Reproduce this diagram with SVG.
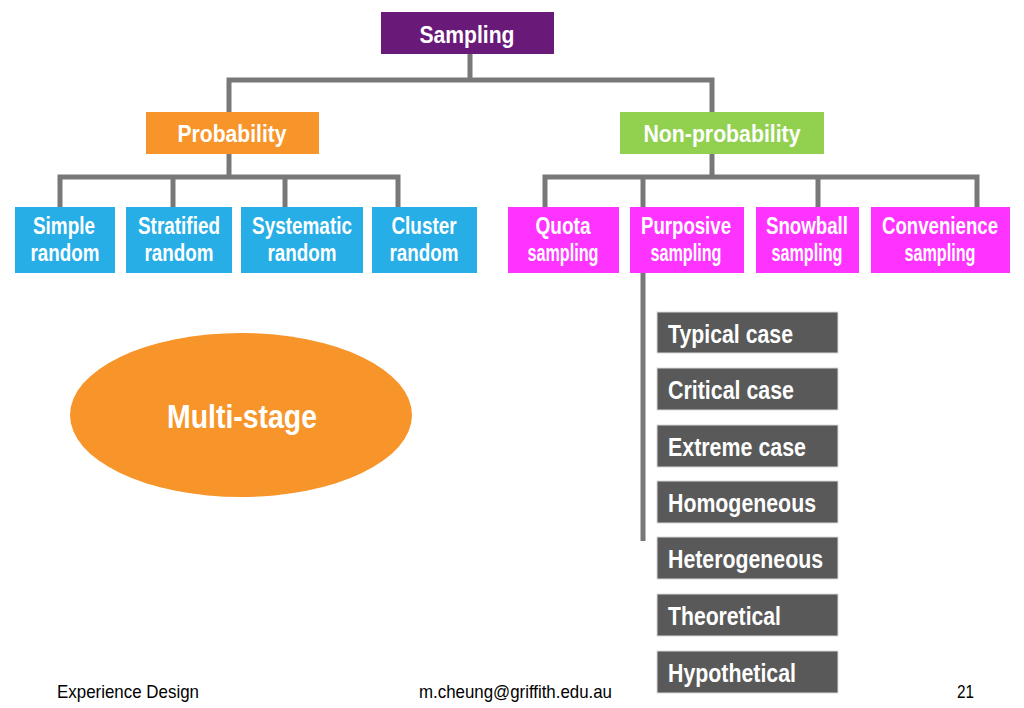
<svg xmlns="http://www.w3.org/2000/svg" width="1024" height="708" viewBox="0 0 1024 708">
<style>
.lbl{font-family:"Liberation Sans",Arial,sans-serif;font-weight:bold;fill:#fff;font-size:23px;text-anchor:middle}
.big{font-size:24px}
.glbl{font-family:"Liberation Sans",Arial,sans-serif;font-weight:bold;fill:#fff;font-size:25px}
.foot{font-family:"Liberation Sans",Arial,sans-serif;fill:#000;font-size:19px}
.con{stroke:#787878;stroke-width:5;fill:none}
.blue{fill:#27aee6}
.mag{fill:#ff33ff}
.gray{fill:#595959;stroke:#d9d9d9;stroke-width:1}
</style>
<rect width="1024" height="708" fill="#fff"/>
<g id="connectors">
<polyline class="con" points="470,54 470,80"/>
<polyline class="con" points="229,112 229,80 712,80 712,112"/>
<polyline class="con" points="229,154 229,177"/>
<polyline class="con" points="60,207 60,177 398,177 398,207"/>
<line class="con" x1="173" y1="177" x2="173" y2="207"/>
<line class="con" x1="285" y1="177" x2="285" y2="207"/>
<polyline class="con" points="712,154 712,177"/>
<polyline class="con" points="545,207 545,177 977,177 977,207"/>
<line class="con" x1="643" y1="177" x2="643" y2="207"/>
<line class="con" x1="818" y1="177" x2="818" y2="207"/>
<line class="con" x1="643" y1="273" x2="643" y2="541"/>
</g>
<g id="sampling"><rect x="381" y="12" width="173" height="42" fill="#691a78"/><text class="lbl big" x="467" y="43" textLength="95" lengthAdjust="spacingAndGlyphs">Sampling</text></g>
<g id="probability"><rect x="146" y="112" width="173" height="42" fill="#f7952a"/><text class="lbl big" x="232" y="142" textLength="109" lengthAdjust="spacingAndGlyphs">Probability</text></g>
<g id="nonprobability"><rect x="620" y="112" width="204" height="42" fill="#92d050"/><text class="lbl big" x="722" y="142" textLength="157" lengthAdjust="spacingAndGlyphs">Non-probability</text></g>
<g id="simple"><rect class="blue" x="15" y="207" width="100" height="66"/><text class="lbl" x="64" y="234" textLength="62" lengthAdjust="spacingAndGlyphs">Simple</text><text class="lbl" x="65" y="261" textLength="69" lengthAdjust="spacingAndGlyphs">random</text></g>
<g id="stratified"><rect class="blue" x="126" y="207" width="106" height="66"/><text class="lbl" x="179" y="234" textLength="82" lengthAdjust="spacingAndGlyphs">Stratified</text><text class="lbl" x="179" y="261" textLength="69" lengthAdjust="spacingAndGlyphs">random</text></g>
<g id="systematic"><rect class="blue" x="241" y="207" width="122" height="66"/><text class="lbl" x="302" y="234" textLength="100" lengthAdjust="spacingAndGlyphs">Systematic</text><text class="lbl" x="302" y="261" textLength="69" lengthAdjust="spacingAndGlyphs">random</text></g>
<g id="cluster"><rect class="blue" x="372" y="207" width="105" height="66"/><text class="lbl" x="424" y="234" textLength="65" lengthAdjust="spacingAndGlyphs">Cluster</text><text class="lbl" x="424" y="261" textLength="69" lengthAdjust="spacingAndGlyphs">random</text></g>
<g id="quota"><rect class="mag" x="508" y="207" width="111" height="66"/><text class="lbl" x="563" y="234" textLength="55" lengthAdjust="spacingAndGlyphs">Quota</text><text class="lbl" x="563" y="261" textLength="71" lengthAdjust="spacingAndGlyphs">sampling</text></g>
<g id="purposive"><rect class="mag" x="630" y="207" width="114" height="66"/><text class="lbl" x="686" y="234" textLength="90" lengthAdjust="spacingAndGlyphs">Purposive</text><text class="lbl" x="686" y="261" textLength="71" lengthAdjust="spacingAndGlyphs">sampling</text></g>
<g id="snowball"><rect class="mag" x="756" y="207" width="103" height="66"/><text class="lbl" x="807" y="234" textLength="82" lengthAdjust="spacingAndGlyphs">Snowball</text><text class="lbl" x="807" y="261" textLength="71" lengthAdjust="spacingAndGlyphs">sampling</text></g>
<g id="convenience"><rect class="mag" x="871" y="207" width="139" height="66"/><text class="lbl" x="940" y="234" textLength="116" lengthAdjust="spacingAndGlyphs">Convenience</text><text class="lbl" x="940" y="261" textLength="71" lengthAdjust="spacingAndGlyphs">sampling</text></g>
<g id="typical"><rect class="gray" x="657" y="312" width="181" height="41"/><text class="glbl" x="668" y="343" textLength="125" lengthAdjust="spacingAndGlyphs">Typical case</text></g>
<g id="critical"><rect class="gray" x="657" y="368" width="181" height="42"/><text class="glbl" x="668" y="399" textLength="126" lengthAdjust="spacingAndGlyphs">Critical case</text></g>
<g id="extreme"><rect class="gray" x="657" y="425" width="181" height="42"/><text class="glbl" x="668" y="456" textLength="138" lengthAdjust="spacingAndGlyphs">Extreme case</text></g>
<g id="homogeneous"><rect class="gray" x="657" y="481" width="181" height="42"/><text class="glbl" x="668" y="512" textLength="148" lengthAdjust="spacingAndGlyphs">Homogeneous</text></g>
<g id="heterogeneous"><rect class="gray" x="657" y="537" width="181" height="42"/><text class="glbl" x="668" y="568" textLength="155" lengthAdjust="spacingAndGlyphs">Heterogeneous</text></g>
<g id="theoretical"><rect class="gray" x="657" y="594" width="181" height="42"/><text class="glbl" x="668" y="625" textLength="113" lengthAdjust="spacingAndGlyphs">Theoretical</text></g>
<g id="hypothetical"><rect class="gray" x="657" y="651" width="181" height="42"/><text class="glbl" x="668" y="682" textLength="128" lengthAdjust="spacingAndGlyphs">Hypothetical</text></g>
<g id="multistage"><ellipse cx="241" cy="415" rx="171" ry="82" fill="#f7952a"/><text class="lbl" x="242" y="428" style="font-size:34px" textLength="150" lengthAdjust="spacingAndGlyphs">Multi-stage</text></g>
<g id="footer">
<text class="foot" x="57" y="698" textLength="142" lengthAdjust="spacingAndGlyphs">Experience Design</text>
<text class="foot" x="419" y="698" textLength="193" lengthAdjust="spacingAndGlyphs">m.cheung@griffith.edu.au</text>
<text class="foot" x="957" y="698" textLength="17" lengthAdjust="spacingAndGlyphs">21</text>
</g>
</svg>
